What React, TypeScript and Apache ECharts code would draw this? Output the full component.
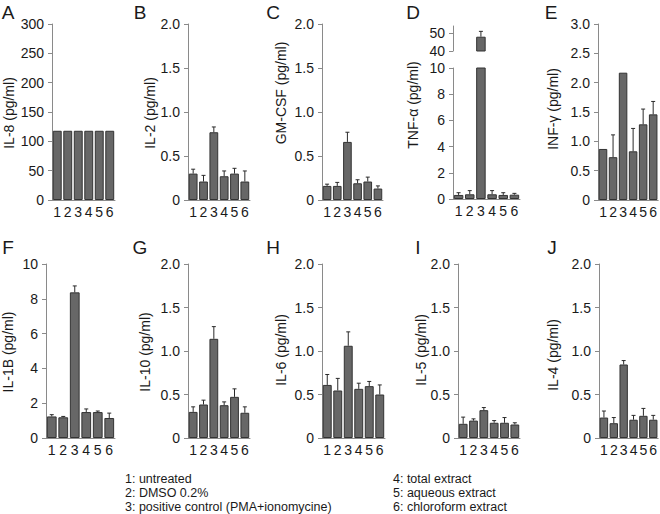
import React, { useEffect, useRef } from "react";
import * as echarts from "echarts";

const categories = ["1", "2", "3", "4", "5", "6"];

const il8 = [118, 118, 118, 118, 118, 118];
const il8Upper = [118, 118, 118, 118, 118, 118];
const il2 = [0.3, 0.21, 0.77, 0.27, 0.3, 0.21];
const il2Upper = [0.35, 0.28, 0.83, 0.33, 0.36, 0.33];
const gmcsf = [0.16, 0.16, 0.66, 0.19, 0.21, 0.13];
const gmcsfUpper = [0.18, 0.2, 0.77, 0.23, 0.26, 0.16];
const tnf = [0.31, 0.36, 48, 0.36, 0.31, 0.33];
const tnfUpper = [0.48, 0.64, 51, 0.64, 0.48, 0.43];
const ifng = [0.87, 0.73, 2.17, 0.83, 1.29, 1.46];
const ifngUpper = [0.87, 1.11, 2.17, 1.22, 1.55, 1.68];
const il1b = [1.24, 1.19, 8.37, 1.49, 1.49, 1.15];
const il1bUpper = [1.34, 1.24, 8.74, 1.67, 1.55, 1.43];
const il10 = [0.3, 0.385, 1.14, 0.377, 0.473, 0.29];
const il10Upper = [0.358, 0.435, 1.28, 0.415, 0.565, 0.358];
const il6 = [0.61, 0.546, 1.06, 0.565, 0.596, 0.5];
const il6Upper = [0.73, 0.685, 1.22, 0.63, 0.65, 0.61];
const il5 = [0.163, 0.2, 0.32, 0.175, 0.175, 0.155];
const il5Upper = [0.24, 0.22, 0.35, 0.2, 0.235, 0.175];
const il4 = [0.235, 0.17, 0.845, 0.21, 0.255, 0.21];
const il4Upper = [0.31, 0.235, 0.89, 0.26, 0.34, 0.26];

const yTitles = [
  "IL-8 (pg/ml)", "IL-2 (pg/ml)", "GM-CSF (pg/ml)", "TNF-α (pg/ml)", "INF-γ (pg/ml)",
  "IL-1B (pg/ml)", "IL-10 (pg/ml)", "IL-6 (pg/ml)", "IL-5 (pg/ml)", "IL-4 (pg/ml)",
];
const panelLetters = ["A", "B", "C", "D", "E", "F", "G", "H", "I", "J"];
const legendLeft = ["1: untreated", "2: DMSO 0.2%", "3: positive control (PMA+ionomycine)"];
const legendRight = ["4: total extract", "5: aqueous extract", "6: chloroform extract"];

const FONT = "'Liberation Sans', Arial, Helvetica, sans-serif";
const AXIS_COLOR = "#8a8a8a";
const TEXT_COLOR = "#1a1a1a";
const BAR_COLOR = "#676767";
const BAR_BORDER = "#333333";

const fmtDec = (v: number) => (v === 0 ? "0" : v.toFixed(1));
const fmtInt = (v: number) => String(v);

type PanelCfg = {
  values: number[];
  upper: number[];
  min: number;
  max: number;
  interval: number;
  fmt: (v: number) => string;
  left: number;
  width: number;
  row: number;
  titleX: number;
  titleY: number;
  letterX: number;
};

const panels: PanelCfg[] = [
  { values: il8, upper: il8Upper, min: 0, max: 300, interval: 50, fmt: fmtInt, left: 52, width: 63, row: 0, titleX: 9, titleY: 113, letterX: 8 },
  { values: il2, upper: il2Upper, min: 0, max: 2, interval: 0.5, fmt: fmtDec, left: 188, width: 62, row: 0, titleX: 150, titleY: 113, letterX: 140 },
  { values: gmcsf, upper: gmcsfUpper, min: 0, max: 2, interval: 0.5, fmt: fmtDec, left: 322, width: 61, row: 0, titleX: 281, titleY: 93, letterX: 273 },
  { values: tnf, upper: tnfUpper, min: 0, max: 10, interval: 2, fmt: fmtInt, left: 453, width: 67, row: 0, titleX: 413, titleY: 105, letterX: 413 },
  { values: ifng, upper: ifngUpper, min: 0, max: 3, interval: 0.5, fmt: fmtDec, left: 598, width: 61, row: 0, titleX: 553, titleY: 109, letterX: 551 },
  { values: il1b, upper: il1bUpper, min: 0, max: 10, interval: 2, fmt: fmtInt, left: 46, width: 69, row: 1, titleX: 8, titleY: 352, letterX: 8 },
  { values: il10, upper: il10Upper, min: 0, max: 2, interval: 0.5, fmt: fmtDec, left: 188, width: 62, row: 1, titleX: 145, titleY: 352, letterX: 140 },
  { values: il6, upper: il6Upper, min: 0, max: 2, interval: 0.5, fmt: fmtDec, left: 322, width: 63, row: 1, titleX: 281, titleY: 350, letterX: 273 },
  { values: il5, upper: il5Upper, min: 0, max: 2, interval: 0.5, fmt: fmtDec, left: 458, width: 62, row: 1, titleX: 421, titleY: 350, letterX: 418 },
  { values: il4, upper: il4Upper, min: 0, max: 2, interval: 0.5, fmt: fmtDec, left: 599, width: 61, row: 1, titleX: 553, titleY: 355, letterX: 552 },
];

const rowTop = [24, 264];
const rowHeight = [176, 174];
const letterY = [12, 247];

function errorRender(params: any, api: any) {
  const x = api.value(0);
  const v = api.value(1);
  const u = api.value(2);
  if (!(u > v)) return null;
  const p0 = api.coord([x, v]);
  const p1 = api.coord([x, u]);
  return {
    type: "group",
    children: [
      { type: "line", shape: { x1: p0[0], y1: p0[1], x2: p1[0], y2: p1[1] }, style: { stroke: "#2a2a2a", lineWidth: 1 } },
      { type: "line", shape: { x1: p1[0] - 2, y1: p1[1], x2: p1[0] + 2, y2: p1[1] }, style: { stroke: "#2a2a2a", lineWidth: 1 } },
    ],
  };
}

function buildOption() {
  const grids: any[] = [];
  const xAxes: any[] = [];
  const yAxes: any[] = [];
  const series: any[] = [];
  const graphics: any[] = [];

  const addGrid = (
    left: number, width: number, top: number, height: number,
    min: number, max: number, interval: number, fmt: (v: number) => string,
    showX: boolean, values: (number | null)[], upper: (number | null)[],
    customValues?: number[]
  ) => {
    const gi = grids.length;
    grids.push({ left, top, width, height, containLabel: false });
    xAxes.push({
      type: "category",
      gridIndex: gi,
      data: categories,
      show: showX,
      axisLine: { show: true, onZero: false, lineStyle: { color: AXIS_COLOR, width: 1 } },
      axisTick: { show: false },
      axisLabel: { color: TEXT_COLOR, fontSize: 14, fontFamily: FONT, margin: 5, interval: 0 },
    });
    const yAxis: any = {
      type: "value",
      gridIndex: gi,
      min,
      max,
      interval,
      splitLine: { show: false },
      axisLine: { show: true, lineStyle: { color: AXIS_COLOR, width: 1 } },
      axisTick: { show: true, length: 4, lineStyle: { color: AXIS_COLOR, width: 1 } },
      axisLabel: {
        color: TEXT_COLOR,
        fontSize: 14,
        fontFamily: FONT,
        margin: 8,
        formatter: (v: number) => (customValues && customValues.indexOf(v) < 0 ? "" : fmt(v)),
      },
    };
    if (customValues) {
      yAxis.axisLabel.customValues = customValues;
      yAxis.axisTick.customValues = customValues;
    }
    yAxes.push(yAxis);
    series.push({
      type: "bar",
      xAxisIndex: gi,
      yAxisIndex: gi,
      data: values.map((v) => (v === null ? "-" : v)),
      barCategoryGap: "15%",
      clip: true,
      itemStyle: { color: BAR_COLOR, borderColor: BAR_BORDER, borderWidth: 1 },
      silent: true,
    });
    const errData: any[] = [];
    values.forEach((v, i) => {
      const u = upper[i];
      if (v !== null && u !== null && u > v) errData.push([i, v, u]);
    });
    series.push({
      type: "custom",
      xAxisIndex: gi,
      yAxisIndex: gi,
      data: errData,
      renderItem: errorRender,
      encode: { x: 0, y: 1 },
      silent: true,
      z: 5,
    });
  };

  panels.forEach((p, idx) => {
    const top = rowTop[p.row];
    const h = rowHeight[p.row];
    if (idx === 3) {
      // broken axis: lower part 0-10, upper part 40-54
      const lowerVals = p.values.map((v) => v);
      const lowerUpper = p.upper.map((u, i) => (p.values[i] > p.max ? null : u));
      addGrid(p.left, p.width, 68, 131, 0, 10, 2, fmtInt, true, lowerVals, lowerUpper);
      const upperVals = p.values.map((v) => (v > p.max ? v : null));
      const upperUp = p.upper.map((u, i) => (p.values[i] > p.max ? u : null));
      addGrid(p.left, p.width, 26, 25, 40, 54, 10, fmtInt, false, upperVals, upperUp, [40, 50]);
    } else {
      addGrid(p.left, p.width, top, h, p.min, p.max, p.interval, p.fmt, true, p.values, p.upper);
    }
    graphics.push({
      type: "text",
      x: p.titleX,
      y: p.titleY,
      rotation: Math.PI / 2,
      style: {
        text: yTitles[idx],
        fontSize: 14,
        fontFamily: FONT,
        fill: TEXT_COLOR,
        align: "center",
        verticalAlign: "middle",
        textAlign: "center",
        textVerticalAlign: "middle",
      },
    });
    graphics.push({
      type: "text",
      x: p.letterX,
      y: letterY[p.row],
      style: {
        text: panelLetters[idx],
        fontSize: 19,
        fontFamily: FONT,
        fill: TEXT_COLOR,
        align: "center",
        verticalAlign: "middle",
        textAlign: "center",
        textVerticalAlign: "middle",
      },
    });
  });

  const legendYs = [479, 493, 507];
  legendLeft.forEach((t, i) => {
    graphics.push({
      type: "text",
      x: 125,
      y: legendYs[i],
      style: { text: t, fontSize: 12.5, fontFamily: FONT, fill: TEXT_COLOR, align: "left", verticalAlign: "middle", textAlign: "left", textVerticalAlign: "middle" },
    });
  });
  legendRight.forEach((t, i) => {
    graphics.push({
      type: "text",
      x: 393,
      y: legendYs[i],
      style: { text: t, fontSize: 12.5, fontFamily: FONT, fill: TEXT_COLOR, align: "left", verticalAlign: "middle", textAlign: "left", textVerticalAlign: "middle" },
    });
  });

  return {
    animation: false,
    backgroundColor: "#ffffff",
    grid: grids,
    xAxis: xAxes,
    yAxis: yAxes,
    series,
    graphic: graphics,
  };
}

export default function App() {
  const ref = useRef<HTMLDivElement>(null);
  useEffect(() => {
    if (!ref.current) return;
    const chart = echarts.init(ref.current, null, { renderer: "svg" });
    chart.setOption(buildOption() as any);
    return () => chart.dispose();
  }, []);
  return (
    <div
      ref={ref}
      style={{ position: "absolute", left: 0, top: 0, width: 660, height: 514 }}
    />
  );
}
